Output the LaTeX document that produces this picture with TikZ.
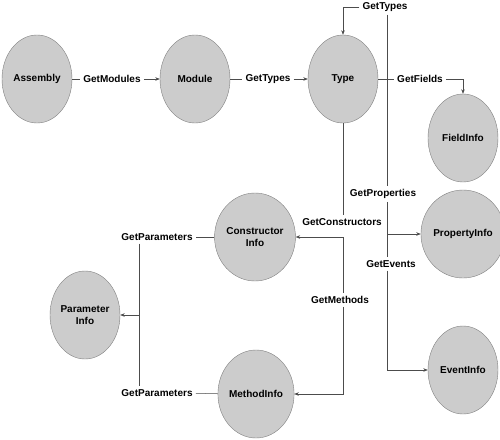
\documentclass[tikz,border=0pt]{standalone}
\usepackage{fontspec}
\setmainfont{Liberation Sans}
\usetikzlibrary{shapes.geometric, arrows.meta, positioning}
\tikzstyle{arrow} = [->, >={Stealth[length=4.5pt,width=3.5pt]}]

\begin{document}
\begin{tikzpicture}[x=1pt, y=-1pt,
    cls/.style={ellipse, draw=black!50, fill=gray!40, minimum width=70pt, minimum height=88pt, inner sep=0pt, font=\fontsize{10}{12}\selectfont\bfseries, align=center},
    call/.style={font=\fontsize{10}{12}\selectfont\bfseries, inner sep=3pt},
    link/.style={draw=black!70, line width=0.5pt},
]
\useasboundingbox (0,0) rectangle (500,439);

% Classes
\node[cls] (assembly) at (37,79) {Assembly};
\node[cls] (module) at (195,79) {Module};
\node[cls] (type) at (343,79) {Type};
\node[cls] (field) at (463,138) {FieldInfo};
\node[cls] (property) at (463,234) {PropertyInfo};
\node[cls] (event) at (463,370) {EventInfo};
\node[cls] (ctor) at (255,237) {Constructor\\Info};
\node[cls] (method) at (256,394) {MethodInfo};
\node[cls] (param) at (85,315) {Parameter\\Info};

% Calls
\node[call] (getmodules) at (112,79) {GetModules};
\node[call] (gettypes) at (268,79) {GetTypes};
\node[call] (getnested) at (385,7) {GetTypes};
\node[call] (getfields) at (420,79) {GetFields};
\node[call] (getprops) at (383,194) {GetProperties};
\node[call] (getevents) at (391,264) {GetEvents};
\node[call] (getctors) at (342,222) {GetConstructors};
\node[call] (getmethods) at (340,300) {GetMethods};
\node[call] (getparamsc) at (157,237) {GetParameters};
\node[call] (getparamsm) at (157,393) {GetParameters};

% Bends
\coordinate (bus) at (387,0);
\coordinate (ctorjoin) at (343,237);
\coordinate (paramjoin) at (139,315);

% Assembly -> Module -> Type
\draw[link] (assembly) -- (getmodules);
\draw[link, arrow] (getmodules) -- (module);
\draw[link] (module) -- (gettypes);
\draw[link, arrow] (gettypes) -- (type);

% Type -> nested types
\draw[link, arrow] (getnested.west) -| (type.north);

% Type -> fields
\draw[link] (type) -- (getfields);
\draw[link, arrow] (getfields.east) -| (field.north);

% Type -> properties, events
\draw[link] (getnested.south -| bus) -- (getprops.north -| bus);
\draw[link] (getprops.south -| bus) -- (getevents.north -| bus);
\draw[link, arrow] (property.west -| bus) -- (property);
\draw[link, arrow] (getevents.south -| bus) |- (event);

% Type -> constructors, methods
\draw[link] (type.south) -- (getctors.north -| type.south);
\draw[link, arrow] (ctorjoin) -- (ctor);
\draw[link] (ctorjoin) -- (getmethods.north -| ctorjoin);
\draw[link, arrow] (getmethods.south -| ctorjoin) |- (method);

% Parameters
\draw[link] (ctor) -- (getparamsc);
\draw[link] (method) -- (getparamsm);
\draw[link] (getparamsc.south -| paramjoin) -- (getparamsm.north -| paramjoin);
\draw[link, arrow] (paramjoin) -- (param);

\end{tikzpicture}
\end{document}
